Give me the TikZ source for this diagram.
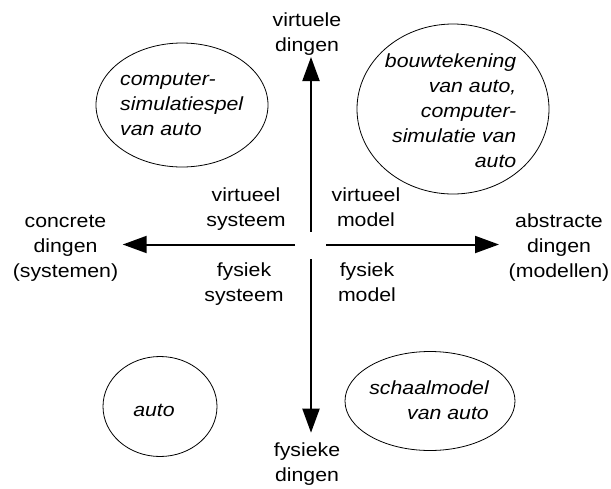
\documentclass[tikz,border=0pt]{standalone}
\usepackage{fontspec}
\setmainfont[FakeStretch=1.12]{Liberation Sans}
\usetikzlibrary{arrows.meta}
\newcommand\mlines[2]{\begin{tabular}[t]{@{}#1@{}}#2\end{tabular}}
\begin{document}
\begin{tikzpicture}[x=1pt,y=-1pt,
  lbl/.style={inner sep=0pt, anchor=base, font=\fontsize{19}{25}\selectfont},
  ilbl/.style={lbl, font=\fontsize{19}{25}\selectfont\itshape},
  blob/.style={draw, line width=0.8pt},
  axis/.style={line width=2pt, -{Triangle[length=24pt,width=17pt]}},
]
\useasboundingbox (0,0) rectangle (611,488);

% ellipses
\draw[blob] (182,105) ellipse [x radius=86, y radius=62];
\draw[blob] (453,109) ellipse [x radius=96, y radius=85];
\draw[blob] (160,406.5) ellipse [x radius=57, y radius=50];
\draw[blob] (430,401) ellipse [x radius=85, y radius=49.5];

% axis end points
\coordinate (upS) at (311,231.7);
\coordinate (upE) at (311,57);
\coordinate (dnS) at (311,259.3);
\coordinate (dnE) at (311,432.7);
\coordinate (lS) at (295,244.5);
\coordinate (lE) at (122.7,244.5);
\coordinate (rS) at (326,244.5);
\coordinate (rE) at (499,244.5);

\draw[axis] (upS) -- (upE);
\draw[axis] (dnS) -- (dnE);
\draw[axis] (lS) -- (lE);
\draw[axis] (rS) -- (rE);

% axis labels
\node[lbl] (virt) at (307,26) {\mlines{c}{virtuele\\dingen}};
\node[lbl] (fys) at (307,456.7) {\mlines{c}{fysieke\\dingen}};
\node[lbl] (conc) at (65.5,227.3) {\mlines{c}{concrete\\dingen\\(systemen)}};
\node[lbl] (abst) at (559,227.3) {\mlines{c}{abstracte\\dingen\\(modellen)}};

% quadrant labels
\node[lbl] (vs) at (246,201) {\mlines{c}{virtueel\\systeem}};
\node[lbl] (vm) at (366,201) {\mlines{c}{virtueel\\model}};
\node[lbl] (fs) at (244,276) {\mlines{c}{fysiek\\systeem}};
\node[lbl] (fm) at (367,276) {\mlines{c}{fysiek\\model}};

% examples
\node[ilbl, anchor=base west] (ex1) at (120,85) {\mlines{l}{computer-\\simulatiespel\\van auto}};
\node[ilbl, anchor=base east] (ex2) at (516.5,67.5) {\mlines{r}{bouwtekening\\van auto,\\computer-\\simulatie van\\auto}};
\node[ilbl, anchor=base east] (ex3) at (489,394) {\mlines{r}{schaalmodel\\van auto}};
\node[ilbl] (ex4) at (154,416.7) {auto};
\end{tikzpicture}
\end{document}
